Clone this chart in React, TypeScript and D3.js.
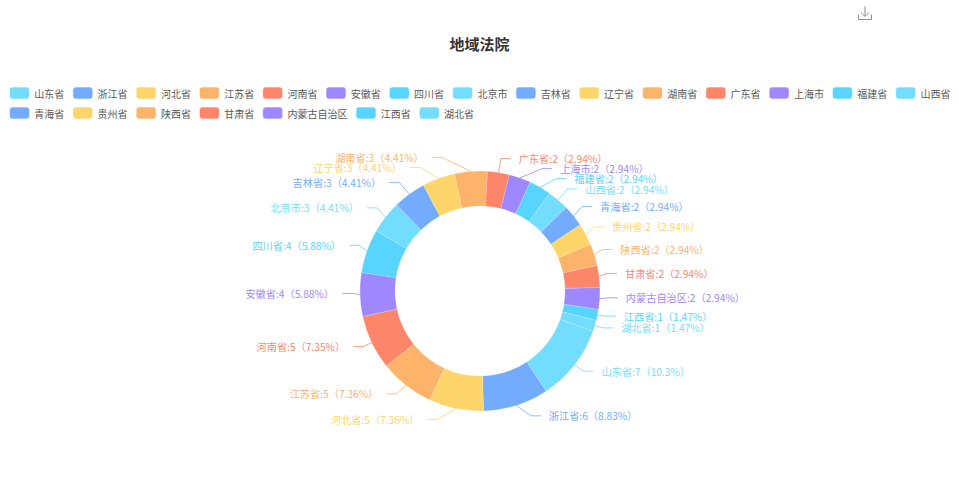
import React from "react";
import * as d3 from "d3";

const names = ["山东省", "浙江省", "河北省", "江苏省", "河南省", "安徽省", "四川省", "北京市", "吉林省", "辽宁省", "湖南省", "广东省", "上海市", "福建省", "山西省", "青海省", "贵州省", "陕西省", "甘肃省", "内蒙古自治区", "江西省", "湖北省"];
const counts = [7, 6, 5, 5, 5, 4, 4, 3, 3, 3, 3, 2, 2, 2, 2, 2, 2, 2, 2, 2, 1, 1];
const percents = ["10.3", "8.83", "7.36", "7.36", "7.35", "5.88", "5.88", "4.41", "4.41", "4.41", "4.41", "2.94", "2.94", "2.94", "2.94", "2.94", "2.94", "2.94", "2.94", "2.94", "1.47", "1.47"];
const palette = ["#73DDFF", "#73ACFF", "#FDD56A", "#FDB36A", "#FD866A", "#9E87FF", "#58D5FF"];

const WIDTH = 959;
const HEIGHT = 500;
const cx = 480;
const cy = 291;
const outer = 120;
const inner = 85;
const firstRow = 15;
const fontFamily = "'Noto Sans CJK SC', 'Noto Sans', sans-serif";

// minimum distance between two labels on one side of the ring
const labelGap = 10;

const pieLayout = d3
  .pie<number>()
  .sort(null)
  .startAngle((109.5 * Math.PI) / 180)
  .endAngle((469.5 * Math.PI) / 180);
const arcGen = d3.arc<d3.PieArcDatum<number>>().innerRadius(inner).outerRadius(outer);

const App = () => {
  const arcs = pieLayout(counts);

  const labels = arcs.map((d, i) => {
    const mid = (d.startAngle + d.endAngle) / 2;
    return {
      i,
      mid,
      right: Math.sin(mid) > 0,
      y: cy - 1.5 - 132.5 * Math.cos(mid),
      pushed: false,
    };
  });

  // push overlapping labels downwards, like the pie label layout does
  [true, false].forEach((side) => {
    const list = labels.filter((l) => l.right === side).sort((a, b) => a.y - b.y);
    list.forEach((l, k) => {
      if (k > 0 && l.y - list[k - 1].y < labelGap) {
        l.y = list[k - 1].y + labelGap;
        l.pushed = true;
      }
    });
  });

  // legend runs by text length
  let legendX = 9;
  const legend = names.map((name, i) => {
    if (i === firstRow) legendX = 9;
    const item = { name, i, x: legendX, y: i < firstRow ? 93 : 113 };
    legendX += 21 + 4.3 + name.length * 10 + 8;
    return item;
  });

  return (
    <svg
      width={WIDTH}
      height={HEIGHT}
      style={{ position: "absolute", left: 0, top: 0, background: "#fff" }}
      fontFamily={fontFamily}
    >
      {/* toolbox */}
      <g transform="translate(858,6)" fill="none" stroke="#8c8c8c" strokeWidth={1}>
        <path d="M0.5 8.5 V13.5 H13.5 V8.5" />
        <path d="M7 0.5 V10 M3 6.5 L7 10.5 L11 6.5" />
      </g>

      <text x={479.5} y={43.5} textAnchor="middle" dominantBaseline="central" fontSize={15} fontWeight={700} fill="#333">
        地域法院
      </text>

      {legend.map((l) => (
        <g key={l.name}>
          <rect
            x={l.x + 0.5}
            y={l.y - 6}
            width={20}
            height={12}
            rx={3}
            fill={palette[l.i % palette.length]}
            stroke="#fff"
            strokeOpacity={0.6}
          />
          <text x={l.x + 25.3} y={l.y} dominantBaseline="central" fontSize={10} fill="#595959">
            {l.name}
          </text>
        </g>
      ))}

      {arcs.map((d, i) => (
        <path
          key={names[i]}
          d={arcGen(d) ?? ""}
          transform={`translate(${cx},${cy})`}
          fill={palette[i % palette.length]}
          stroke="#fff"
          strokeOpacity={0.4}
          strokeWidth={0.4}
        />
      ))}

      {labels.map((l) => {
        const dir = l.right ? 1 : -1;
        const rB = l.y < cy ? 140 : 136;
        const dy = Math.min(Math.abs(l.y - cy), rB - 1);
        let reach = 128 * Math.sqrt(1 - (dy * dy) / (rB * rB));
        // the top label on the right stays where its angle puts it
        if (l.right && !l.pushed && l.y < cy) reach = Math.min(reach, 134 * Math.sin(l.mid));
        const elbowX = cx + dir * reach;
        const endX = elbowX + dir * 10;
        const color = palette[l.i % palette.length];
        const line = d3.line()([
          [cx + outer * Math.sin(l.mid), cy - outer * Math.cos(l.mid)],
          [elbowX, l.y],
          [endX, l.y],
        ]);
        return (
          <g key={names[l.i]}>
            <path d={line ?? ""} fill="none" stroke={color} strokeOpacity={0.8} strokeWidth={1} />
            <text
              x={endX + dir * 8}
              y={l.y}
              textAnchor={l.right ? "start" : "end"}
              dominantBaseline="central"
              fontSize={10.2}
              fill={color}
            >
              {`${names[l.i]}:${counts[l.i]}（${percents[l.i]}%）`}
            </text>
          </g>
        );
      })}
    </svg>
  );
};

export default App;
